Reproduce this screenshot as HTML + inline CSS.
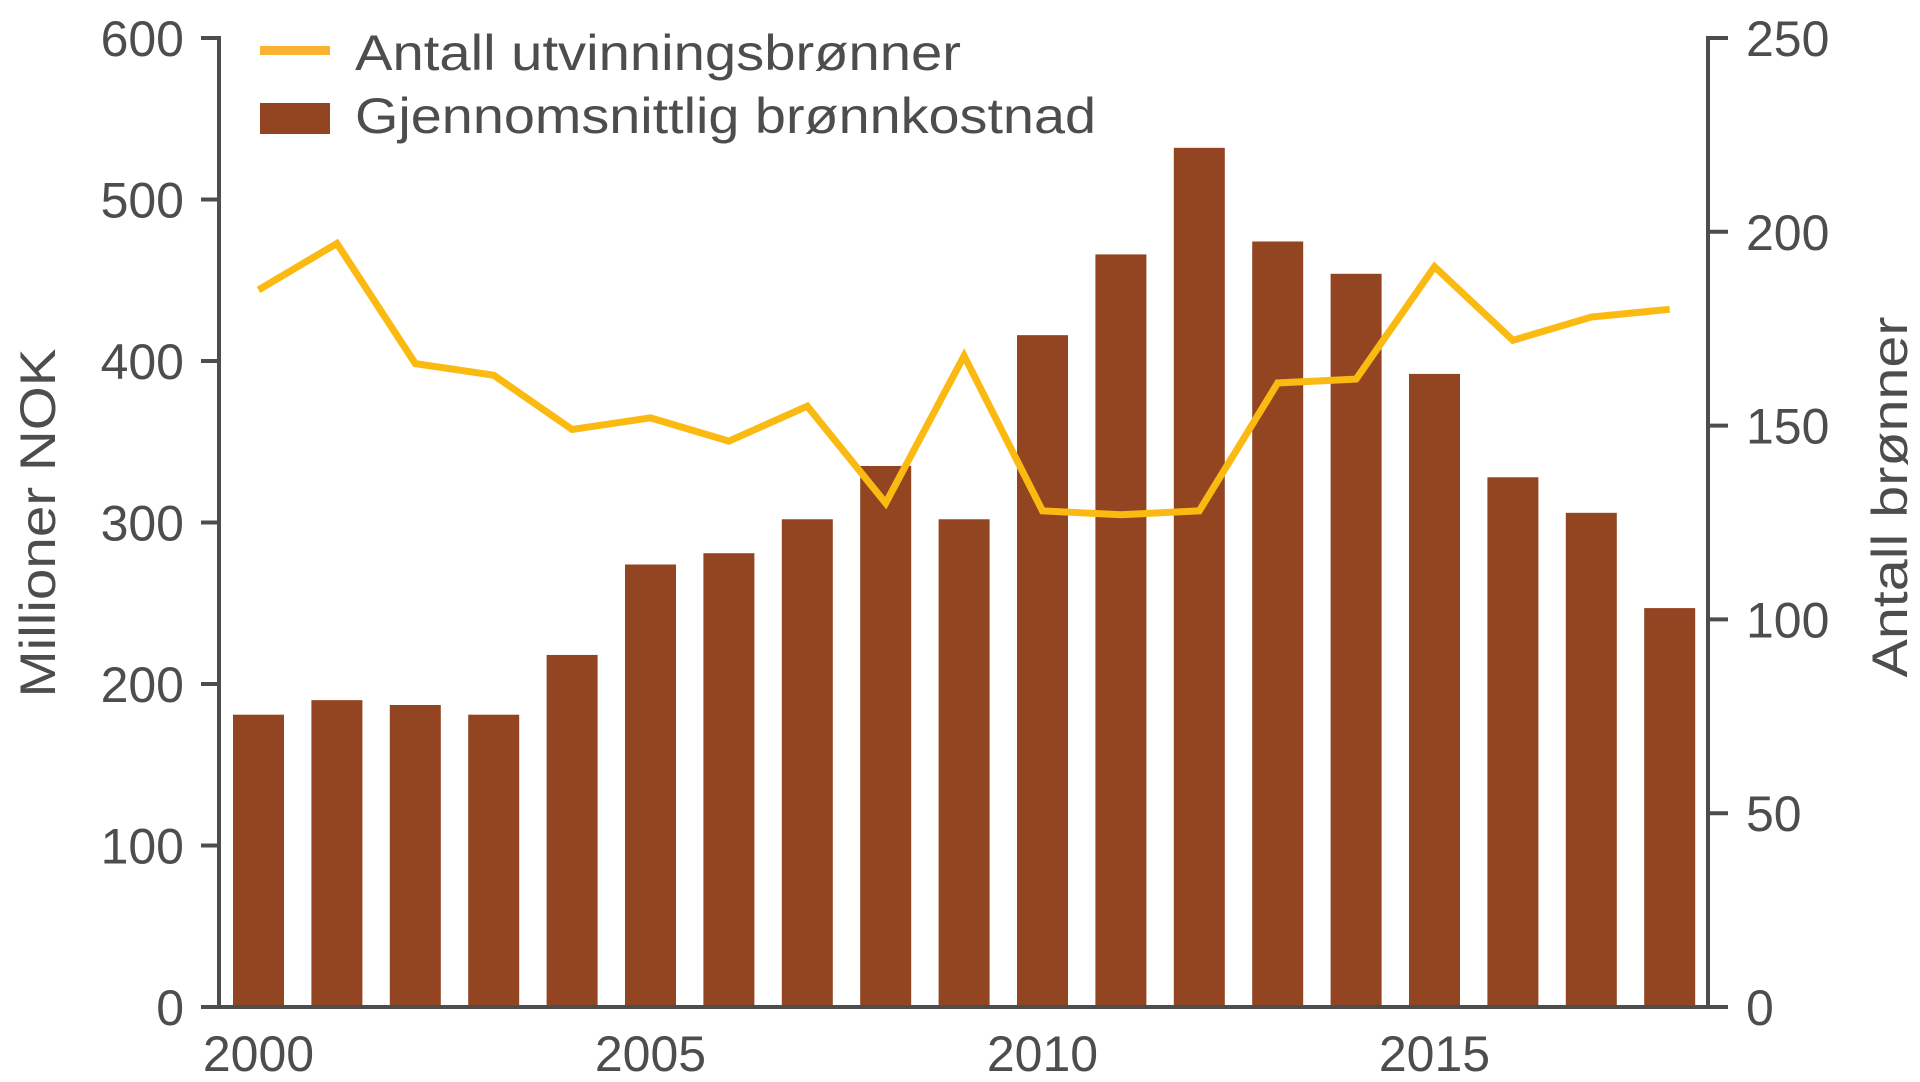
<!DOCTYPE html>
<html><head><meta charset="utf-8"><style>
html,body{margin:0;padding:0;background:#fff;}
svg{display:block;font-family:"Liberation Sans",sans-serif;}
</style></head><body>
<svg id="chart" width="1920" height="1082" viewBox="0 0 1920 1082">
<g id="bars"></g>
<g id="line"></g>
<g id="axes"></g>
<g>
<rect x="260" y="46" width="70" height="9" fill="#f9b233"/>
<text x="355" y="70" font-size="50" fill="#4d4d4d" textLength="606" lengthAdjust="spacingAndGlyphs">Antall utvinningsbrønner</text>
<rect x="260" y="103" width="70" height="31" fill="#934522"/>
<text x="355" y="133" font-size="50" fill="#4d4d4d" textLength="741" lengthAdjust="spacingAndGlyphs">Gjennomsnittlig brønnkostnad</text>
</g>
<text transform="translate(55,523) rotate(-90)" text-anchor="middle" font-size="50" fill="#4d4d4d" textLength="349" lengthAdjust="spacingAndGlyphs">Millioner NOK</text>
<text transform="translate(1907,497) rotate(-90)" text-anchor="middle" font-size="50" fill="#4d4d4d" textLength="361" lengthAdjust="spacingAndGlyphs">Antall brønner</text>
</svg>
<script>
const years=[2000,2001,2002,2003,2004,2005,2006,2007,2008,2009,2010,2011,2012,2013,2014,2015,2016,2017,2018];
const cost=[181,190,187,181,218,274,281,302,335,302,416,466,532,474,454,392,328,306,247];
const wells=[185,197,166,163,149,152,146,155,130,168,128,127,128,161,162,191,172,178,180];
const leftTicks=[0,100,200,300,400,500,600];
const rightTicks=[0,50,100,150,200,250];
const xTicks=[2000,2005,2010,2015];

const NS="http://www.w3.org/2000/svg";
const y0=1007, yTop=38;
const yL=v=>y0-(v/600)*(y0-yTop);
const yR=v=>y0-(v/250)*(y0-yTop);
const x=yr=>258.5+(yr-2000)*78.4;
const bw=51;
function mk(tag,attrs,parent){const e=document.createElementNS(NS,tag);for(const k in attrs)e.setAttribute(k,attrs[k]);parent.appendChild(e);return e;}
const bars=document.getElementById('bars'),line=document.getElementById('line'),axes=document.getElementById('axes');
years.forEach((yr,i)=>{
  const r=mk('rect',{x:x(yr)-bw/2,y:yL(cost[i]),width:bw,height:y0-yL(cost[i]),fill:'#934522'},bars);
  
  
});
const pts=years.map((yr,i)=>x(yr)+','+yR(wells[i])).join(' ');
const pl=mk('polyline',{points:pts,fill:'none',stroke:'#fbba12','stroke-width':7,'stroke-linejoin':'miter'},line);


const c='#4d4d4d';
let a=mk('line',{x1:219,y1:yTop,x2:219,y2:y0+2,stroke:c,'stroke-width':4},axes);

a=mk('line',{x1:1708,y1:yTop,x2:1708,y2:y0+2,stroke:c,'stroke-width':4},axes);

a=mk('line',{x1:201,y1:y0,x2:1728,y2:y0,stroke:c,'stroke-width':4},axes);

leftTicks.forEach(v=>{
  const t=mk('line',{x1:201,y1:yL(v),x2:221,y2:yL(v),stroke:c,'stroke-width':4},axes);
  
  const l=mk('text',{x:184,y:yL(v)+18,'text-anchor':'end','font-size':50,fill:c},axes);
  l.textContent=v;
  
});
rightTicks.forEach(v=>{
  const t=mk('line',{x1:1706,y1:yR(v),x2:1728,y2:yR(v),stroke:c,'stroke-width':4},axes);
  
  const l=mk('text',{x:1746,y:yR(v)+18,'font-size':50,fill:c},axes);
  l.textContent=v;
  
});
xTicks.forEach(yr=>{
  const l=mk('text',{x:x(yr),y:1071,'text-anchor':'middle','font-size':50,fill:c},axes);
  l.textContent=yr;
  
});
</script>
</body></html>
